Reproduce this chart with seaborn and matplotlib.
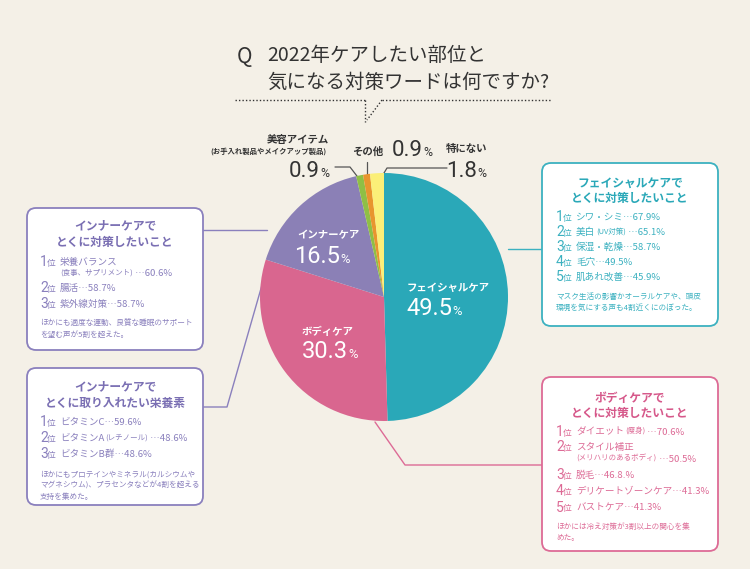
import matplotlib.pyplot as plt
import seaborn as sns
from matplotlib.patches import FancyBboxPatch

# pie data, clockwise from 12 o'clock
labels = ["フェイシャルケア", "ボディケア", "インナーケア", "美容アイテム", "その他", "特にない"]
values = [49.5, 30.3, 16.5, 0.9, 0.9, 1.8]
colors = ["#2aa8b8", "#d9668f", "#8b80b6", "#8fbf45", "#e8952e", "#fbef78"]

# ranking items: (text, small parenthetical, rest)
inner_care = [("栄養バランス", "", ""), ("腸活…58.7%", "", ""), ("紫外線対策…58.7%", "", "")]
inner_care_sub = ("", "(食事、サプリメント)", " …60.6%")
inner_nutrients = [("ビタミンC…59.6%", "", ""), ("ビタミンA", "(レチノール)", " …48.6%"),
                   ("ビタミンB群…48.6%", "", "")]
facial_care = [("シワ・シミ…67.9%", "", ""), ("美白", "(UV対策)", " …65.1%"), ("保湿・乾燥…58.7%", "", ""),
               ("毛穴…49.5%", "", ""), ("肌あれ改善…45.9%", "", "")]
body_care = [("ダイエット", "(瘦身)", " …70.6%"), ("スタイル補正", "", ""), ("脱毛…46.8.%", "", ""),
             ("デリケートゾーンケア…41.3%", "", ""), ("バストケア…41.3%", "", "")]
body_care_sub = ("", "(メリハリのあるボディ)", " …50.5%")

sns.set_style("white")
plt.rcParams["font.family"] = ["Noto Sans CJK JP", "DejaVu Sans"]

bg = "#f4f0e7"
fig = plt.figure(figsize=(7.5, 5.69), dpi=100, facecolor=bg)

ax = fig.add_axes([0, 0, 1, 1], zorder=0)
ax.set_xlim(0, 750)
ax.set_ylim(569, 0)
ax.axis("off")
ax.set_facecolor(bg)

# pie axes: center (384, 297), radius 124 px
cx, cy, r = 384, 297, 124
pax = fig.add_axes([(cx - r) / 750, (569 - cy - r) / 569, 2 * r / 750, 2 * r / 569], zorder=1)
pax.pie(values, colors=colors, startangle=90, counterclock=False, radius=1,
        wedgeprops=dict(linewidth=0))
pax.set_xlim(-1, 1)
pax.set_ylim(-1, 1)
pax.axis("off")

# overlay for labels on top of the pie
top = fig.add_axes([0, 0, 1, 1], zorder=2)
top.set_xlim(0, 750)
top.set_ylim(569, 0)
top.axis("off")
top.patch.set_alpha(0)

num_font = ["Roboto", "DejaVu Sans"]


def pct(a, x, y, num, size, color):
    a.text(x, y, num, ha="right", va="baseline", fontsize=size, color=color,
           family=num_font, zorder=5)
    a.text(x, y, "%", ha="left", va="baseline", fontsize=size * 0.55, color=color,
           family=num_font, zorder=5)


# labels inside the pie
for name, (tx, ty), (nx, ny), v in [
    (labels[0], (448, 288), (452, 315), "49.5"),
    (labels[1], (328, 332), (348, 358), "30.3"),
    (labels[2], (328, 235), (340, 263), "16.5"),
]:
    top.text(tx, ty, name, ha="center", va="center", fontsize=7.5, fontweight="bold",
             color="white")
    pct(top, nx, ny, v, 17, "white")

# title
dark = "#333333"
ax.text(245, 57, "Q", ha="center", va="center", fontsize=15, color=dark)
ax.text(267, 55, "2022年ケアしたい部位と", ha="left", va="center", fontsize=14, color=dark)
ax.text(267, 82, "気になる対策ワードは何ですか?", ha="left", va="center", fontsize=14, color=dark)
ax.plot([235, 365], [100, 100], ls=(0, (1, 1.5)), color=dark, lw=1)
ax.plot([382, 552], [100, 100], ls=(0, (1, 1.5)), color=dark, lw=1)
ax.plot([365, 365], [100, 122], ls=(0, (1, 1.5)), color=dark, lw=1)
ax.plot([382, 367], [100, 120], ls=(0, (1, 1.5)), color=dark, lw=1)

# small slices labels
ax.text(298, 140, "美容アイテム", ha="center", va="center", fontsize=7.5, fontweight="bold", color=dark)
ax.text(268, 151, "(お手入れ製品やメイクアップ製品)", ha="center", va="center", fontsize=5.3,
        fontweight="bold", color=dark)
pct(ax, 320, 177, "0.9", 16, dark)
ax.text(368, 152, "その他", ha="center", va="center", fontsize=7.5, fontweight="bold", color=dark)
pct(ax, 423, 156, "0.9", 16, dark)
ax.text(467, 149, "特にない", ha="center", va="center", fontsize=7.5, fontweight="bold", color=dark)
pct(ax, 477, 177, "1.8", 16, dark)
ax.plot([335, 350, 360], [167, 167, 180], color="#555555", lw=0.9)
ax.plot([367, 367], [162, 178], color="#555555", lw=0.9)
ax.plot([447, 387, 378], [168, 168, 183], color="#555555", lw=0.9)

# boxes
purple = "#8a80bd"
purple_t = "#7a6fb3"
teal = "#3cb1c0"
pink = "#dd6b96"


def box(x0, y0, x1, y1, ec):
    ax.add_patch(FancyBboxPatch((x0, y0), x1 - x0, y1 - y0,
                                boxstyle="round,pad=0,rounding_size=9",
                                fc="white", ec=ec, lw=1.3, zorder=2))


def item_text(x, y, item, color, size=6.9):
    main, small, rest = item
    t = ax.text(x, y, main, ha="left", va="center", fontsize=size, color=color, zorder=3)
    if small:
        t = ax.annotate(small, xy=(1, 0.5), xycoords=t, xytext=(0.5, 0), textcoords="offset points",
                        ha="left", va="center", fontsize=5.4, color=color, zorder=3)
    if rest:
        ax.annotate(rest, xy=(1, 0.5), xycoords=t, xytext=(0, 0), textcoords="offset points",
                    ha="left", va="center", fontsize=size, color=color, zorder=3)


def rank(x, y, n, item, color):
    ax.text(x, y, str(n), ha="left", va="center", fontsize=10, color=color, zorder=3,
            family=num_font)
    ax.text(x + 7, y + 1, "位", ha="left", va="center", fontsize=6.3, color=color, zorder=3)
    item_text(x + 20, y, item, color)


# connector lines (behind the pie)
ax.plot([203, 267], [230, 230], color=purple, lw=1)
ax.plot([203, 227, 262], [407, 407, 285], color=purple, lw=1)
ax.plot([508, 542], [249, 249], color=teal, lw=1)
ax.plot([375, 405, 542], [422, 465, 465], color=pink, lw=1)

note = 5.5

# inner care box 1
box(27, 208, 203, 350, purple)
ax.text(115, 226, "インナーケアで", ha="center", va="center", fontsize=8.5, fontweight="bold", color=purple_t, zorder=3)
ax.text(115, 242, "とくに対策したいこと", ha="center", va="center", fontsize=8.5, fontweight="bold", color=purple_t, zorder=3)
rank(40, 262, 1, inner_care[0], purple)
item_text(60, 273, inner_care_sub, purple)
rank(40, 288, 2, inner_care[1], purple)
rank(40, 304, 3, inner_care[2], purple)
ax.text(40, 323, "ほかにも適度な運動、良質な睡眠のサポート", ha="left", va="center", fontsize=note, color=purple, zorder=3)
ax.text(40, 335, "を望む声が5割を超えた。", ha="left", va="center", fontsize=note, color=purple, zorder=3)

# inner care box 2
box(27, 368, 203, 505, purple)
ax.text(115, 387, "インナーケアで", ha="center", va="center", fontsize=8.5, fontweight="bold", color=purple_t, zorder=3)
ax.text(115, 403, "とくに取り入れたい栄養素", ha="center", va="center", fontsize=8.5, fontweight="bold", color=purple_t, zorder=3)
for i, t in enumerate(inner_nutrients):
    rank(40, 422 + 16 * i, i + 1, t, purple)
for i, t in enumerate(["ほかにもプロテインやミネラル(カルシウムや",
                       "マグネシウム)、プラセンタなどが4割を超える",
                       "支持を集めた。"]):
    ax.text(40, 475 + 11 * i, t, ha="left", va="center", fontsize=note, color=purple, zorder=3)

# facial box
box(542, 163, 718, 326, teal)
ax.text(630, 183, "フェイシャルケアで", ha="center", va="center", fontsize=8.5, fontweight="bold", color="#2aa8b8", zorder=3)
ax.text(630, 198, "とくに対策したいこと", ha="center", va="center", fontsize=8.5, fontweight="bold", color="#2aa8b8", zorder=3)
for i, t in enumerate(facial_care):
    rank(556, 217 + 15 * i, i + 1, t, teal)
ax.text(556, 297, "マスク生活の影響かオーラルケアや、頭皮", ha="left", va="center", fontsize=note, color=teal, zorder=3)
ax.text(556, 308, "環境を気にする声も4割近くにのぼった。", ha="left", va="center", fontsize=note, color=teal, zorder=3)

# body box
box(542, 377, 718, 551, pink)
ax.text(630, 398, "ボディケアで", ha="center", va="center", fontsize=8.5, fontweight="bold", color="#d6588a", zorder=3)
ax.text(630, 413, "とくに対策したいこと", ha="center", va="center", fontsize=8.5, fontweight="bold", color="#d6588a", zorder=3)
for n, t, y in zip(range(1, 6), body_care, [432, 447, 475, 491, 508]):
    rank(556, y, n, t, pink)
item_text(576, 459, body_care_sub, pink)
ax.text(556, 527, "ほかには冷え対策が3割以上の関心を集", ha="left", va="center", fontsize=note, color=pink, zorder=3)
ax.text(556, 538, "めた。", ha="left", va="center", fontsize=note, color=pink, zorder=3)

fig.savefig("out.png", dpi=100, facecolor=bg)
plt.close(fig)
